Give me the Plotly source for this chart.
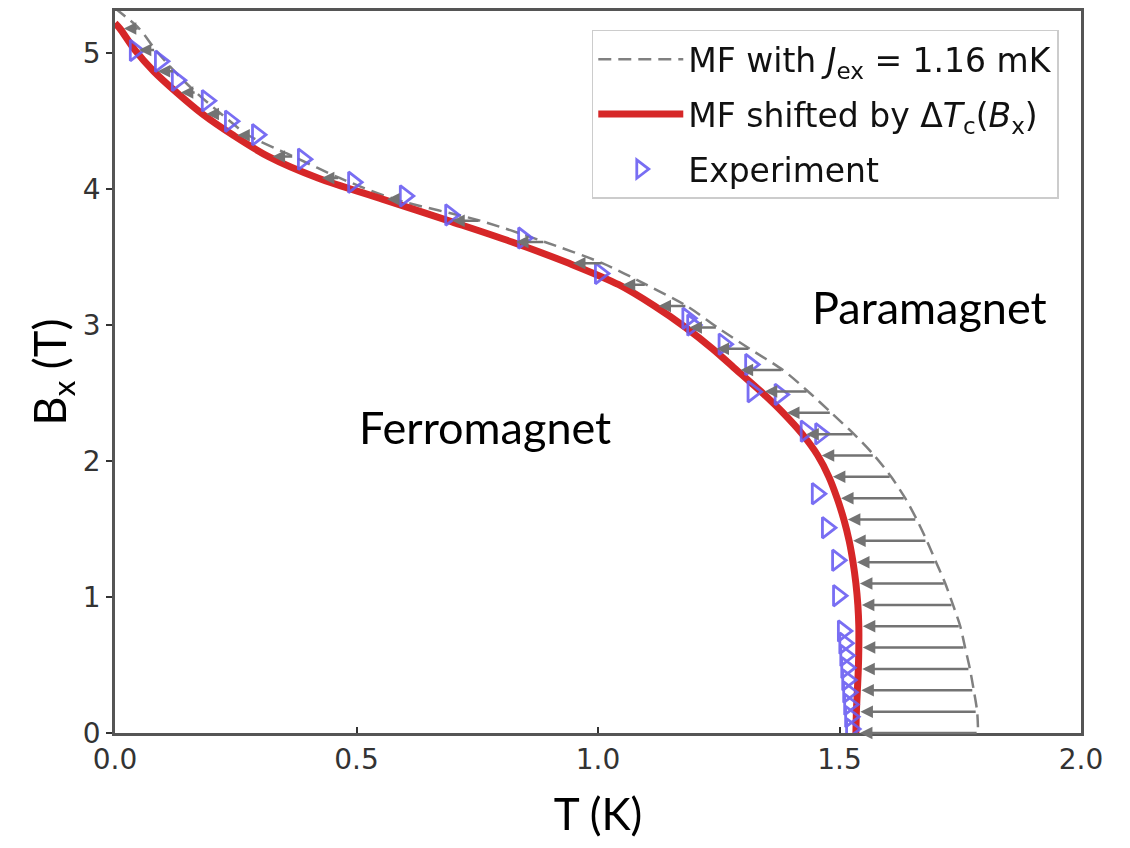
import plotly.graph_objects as go

# Field levels (T) at which the mean-field curves are read and arrows drawn
B_levels = [0.0, 0.157, 0.314, 0.471, 0.628, 0.785, 0.942, 1.099, 1.256, 1.413,
            1.570, 1.727, 1.884, 2.041, 2.198, 2.355, 2.512, 2.669, 2.826, 2.983,
            3.140, 3.297, 3.454, 3.611, 3.768, 3.925, 4.082, 4.239, 4.396, 4.553,
            4.710, 4.867, 5.024, 5.181]

# Mean-field curve with J_ex = 1.16 mK (temperature, K)
T_mf = [1.787, 1.785, 1.778, 1.770, 1.760, 1.750, 1.735, 1.719, 1.700, 1.681,
        1.660, 1.636, 1.607, 1.572, 1.530, 1.483, 1.435, 1.383, 1.314, 1.247,
        1.184, 1.100, 1.010, 0.890, 0.756, 0.580, 0.465, 0.370, 0.276, 0.220,
        0.168, 0.123, 0.084, 0.050]
T_mf_top, B_mf_top = 0.0, 5.33

# Mean-field curve shifted by Delta T_c(B_x)
T_shift = [1.534, 1.535, 1.537, 1.539, 1.540, 1.540, 1.538, 1.534, 1.528, 1.520,
           1.509, 1.495, 1.478, 1.455, 1.423, 1.383, 1.337, 1.287, 1.237, 1.181,
           1.117, 1.043, 0.940, 0.822, 0.690, 0.555, 0.420, 0.318, 0.245, 0.181,
           0.128, 0.080, 0.041, 0.010]
T_shift_top, B_shift_top = 0.0, 5.22

# Experimental phase boundary
T_exp = [0.041, 0.093, 0.128, 0.190, 0.238, 0.294, 0.389, 0.493, 0.600, 0.694,
         0.845, 1.004, 1.185, 1.195, 1.260, 1.315, 1.320, 1.376, 1.430, 1.460,
         1.453, 1.474, 1.495, 1.497, 1.507, 1.510, 1.512, 1.514, 1.516, 1.518,
         1.520, 1.522, 1.524]
B_exp = [5.02, 4.94, 4.80, 4.65, 4.50, 4.40, 4.22, 4.05, 3.95, 3.81,
         3.64, 3.38, 3.05, 3.00, 2.86, 2.71, 2.51, 2.49, 2.22, 2.20,
         1.76, 1.51, 1.27, 1.01, 0.75, 0.66, 0.57, 0.48, 0.39, 0.30,
         0.21, 0.12, 0.03]

x_ticks = [0.0, 0.5, 1.0, 1.5, 2.0]
x_tick_labels = ["0.0", "0.5", "1.0", "1.5", "2.0"]
y_ticks = [0, 1, 2, 3, 4, 5]

fig = go.Figure()

fig.add_trace(go.Scatter(
    x=[T_mf_top] + T_mf[::-1], y=[B_mf_top] + B_levels[::-1],
    mode="lines", line=dict(color="#808080", width=2.5, dash="13px,7px",
                            shape="spline", smoothing=0.8),
    legendgroup="a",
    name="MF with <i>J</i><sub>ex</sub> = 1.16 mK"))

fig.add_trace(go.Scatter(
    x=[T_shift_top] + T_shift[::-1], y=[B_shift_top] + B_levels[::-1],
    mode="lines", line=dict(color="#d62728", width=7, shape="spline", smoothing=0.9),
    legendgroup="b",
    name="MF shifted by Δ<i>T</i><sub>c</sub>(<i>B</i><sub>x</sub>)"))

fig.add_trace(go.Scatter(
    x=T_exp, y=B_exp, mode="markers",
    marker=dict(symbol="triangle-right-open", size=18, color="#6a5ef2",
                line=dict(width=2.8, color="#6a5ef2")),
    opacity=0.9, legendgroup="c", name="Experiment"))

for b, t0, t1 in zip(B_levels, T_mf, T_shift):
    fig.add_annotation(x=t1, y=b, ax=t0, ay=b, xref="x", yref="y",
                       axref="x", ayref="y", text="", showarrow=True,
                       arrowhead=2, arrowsize=1.0, arrowwidth=2.5,
                       arrowcolor="#737373", standoff=4)

fig.add_annotation(x=1.687, y=3.13, text="Paramagnet", showarrow=False,
                   font=dict(family="Lato", size=45, color="#000"))
fig.add_annotation(x=0.766, y=2.25, text="Ferromagnet", showarrow=False,
                   font=dict(family="Lato", size=45, color="#000"))

axis_common = dict(showline=True, linecolor="#555", linewidth=2.5, mirror=True,
                   showgrid=False, zeroline=False, ticklen=6, tickwidth=1.5,
                   tickcolor="#333",
                   tickfont=dict(family="DejaVu Sans", size=28, color="#333"))

fig.update_xaxes(range=[0, 2], tickvals=x_ticks, ticktext=x_tick_labels,
                 ticks="inside",
                 title=dict(text="T (K)", font=dict(family="Lato", size=44, color="#000"),
                            standoff=24),
                 **axis_common)
fig.update_yaxes(range=[0, 5.31], tickvals=y_ticks, ticks="outside",
                 title=dict(text="B<sub>x</sub> (T)", font=dict(family="Lato", size=45, color="#000"),
                            standoff=3),
                 **axis_common)

fig.update_layout(
    width=1130, height=848,
    margin=dict(l=107, r=57, t=0, b=123),
    plot_bgcolor="white", paper_bgcolor="white",
    showlegend=True,
    legend=dict(x=0.977, y=0.974, xanchor="right", yanchor="top",
                bgcolor="rgba(255,255,255,0.85)", bordercolor="#cccccc", borderwidth=1.5,
                font=dict(family="DejaVu Sans", size=33, color="#111"),
                itemwidth=85, tracegroupgap=9),
)

fig.write_html("out.html")
